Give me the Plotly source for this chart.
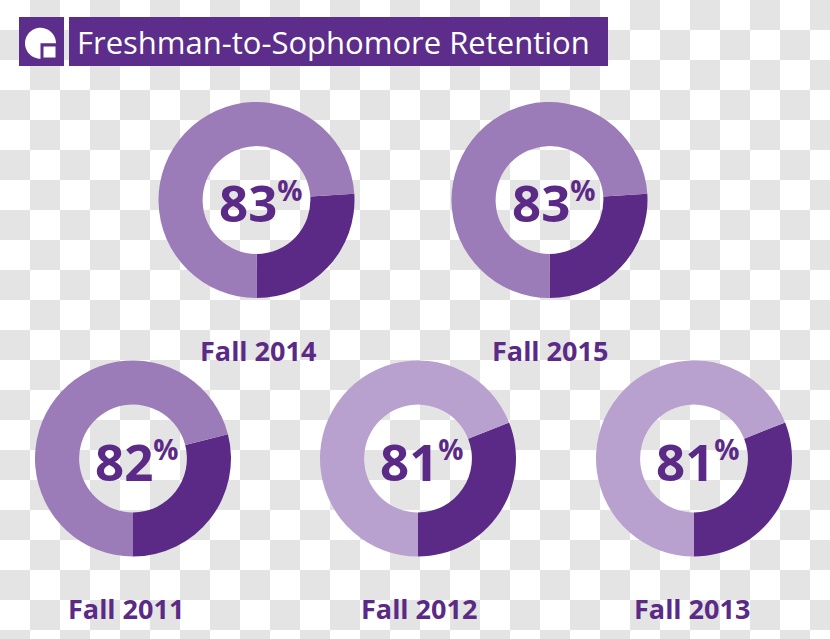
import math
import plotly.graph_objects as go

# ---- data ----
terms = ["Fall 2011", "Fall 2012", "Fall 2013", "Fall 2014", "Fall 2015"]
retention_pct = [82, 81, 81, 83, 83]
dark_share_pct = [29, 31, 31, 26, 26]   # share of ring drawn in dark purple
title_text = "Freshman-to-Sophomore Retention"

# ---- layout / style ----
W, H = 830, 639
centers = [(133, 458.5), (418, 458.5), (694, 458.5), (256.5, 200), (549.5, 200)]
label_pos = [(126, 608), (419, 608), (692, 608), (258, 350), (550, 350)]
light_colors = ["#9b7bb8", "#b8a1cf", "#b8a1cf", "#9b7bb8", "#9b7bb8"]
dark_color = "#5b2a86"
text_color = "#5b2a86"
R = 98
FONT = "Open Sans"


def px(x):
    return x / W


def py(y):
    return 1 - y / H


fig = go.Figure()

for i, term in enumerate(terms):
    cx, cy = centers[i]
    dark = dark_share_pct[i]
    fig.add_trace(go.Pie(
        values=[dark, 100 - dark],
        labels=["dark", "light"],
        sort=False,
        direction="clockwise",
        rotation=180 - dark * 3.6,
        hole=0.55,
        marker=dict(colors=[dark_color, light_colors[i]], line=dict(width=0)),
        textinfo="none",
        textposition="none",
        hoverinfo="skip",
        showlegend=False,
        domain=dict(x=[px(cx - R), px(cx + R)], y=[py(cy + R), py(cy - R)]),
    ))

annotations = []
for i, term in enumerate(terms):
    cx, cy = centers[i]
    annotations.append(dict(
        x=px(cx + 4), y=py(cy + 2), xref="paper", yref="paper",
        xanchor="center", yanchor="middle", showarrow=False,
        text="%d<sup><span style='font-size:28px'>%%</span></sup>" % retention_pct[i],
        font=dict(family=FONT, size=51, color=text_color, weight="bold"),
    ))
    lx, ly = label_pos[i]
    annotations.append(dict(
        x=px(lx), y=py(ly), xref="paper", yref="paper",
        xanchor="center", yanchor="middle", showarrow=False,
        text=term,
        font=dict(family=FONT, size=27, color=text_color, weight="bold"),
    ))

annotations.append(dict(
    x=px(75), y=py(42), xref="paper", yref="paper",
    xanchor="left", yanchor="middle", showarrow=False,
    text=title_text,
    font=dict(family=FONT, size=31, color="white"),
))

# checkerboard background (transparent-PNG look)
cell = 30
parts = []
for r in range(0, H // cell + 1):
    for c in range(0, W // cell + 1):
        if (r + c) % 2 == 1:
            x0, x1 = px(c * cell), px(min((c + 1) * cell, W))
            y0, y1 = py(r * cell), py(min((r + 1) * cell, H))
            parts.append("M%.5f,%.5f H%.5f V%.5f H%.5f Z" % (x0, y0, x1, y1, x0))
shapes = [dict(type="path", xref="paper", yref="paper", path=" ".join(parts),
               fillcolor="#e4e4e4", line=dict(width=0), layer="below")]

bar_color = "#5c2d8a"
# logo box and title bar
shapes.append(dict(type="rect", xref="paper", yref="paper",
                   x0=px(19), x1=px(64), y0=py(66), y1=py(17),
                   fillcolor=bar_color, line=dict(width=0)))
shapes.append(dict(type="rect", xref="paper", yref="paper",
                   x0=px(69), x1=px(608), y0=py(66), y1=py(17),
                   fillcolor=bar_color, line=dict(width=0)))
# logo glyph: three-quarter disc + small square piece
lcx, lcy, lr = 40.5, 43.3, 15.5
pts = []
steps = 40
for k in range(steps + 1):
    a = math.radians(90 + 270 * k / steps)
    pts.append((lcx + lr * math.cos(a), lcy + lr * math.sin(a)))
path = "M%.5f,%.5f " % (px(lcx), py(lcy))
path += " ".join("L%.5f,%.5f" % (px(x), py(y)) for x, y in pts) + " Z"
shapes.append(dict(type="path", xref="paper", yref="paper", path=path,
                   fillcolor="white", line=dict(width=0)))
shapes.append(dict(type="rect", xref="paper", yref="paper",
                   x0=px(43.5), x1=px(55.5), y0=py(57.5), y1=py(46.5),
                   fillcolor="white", line=dict(width=0)))

fig.update_layout(
    width=W, height=H,
    margin=dict(l=0, r=0, t=0, b=0),
    paper_bgcolor="white", plot_bgcolor="white",
    annotations=annotations, shapes=shapes,
    showlegend=False,
)

fig.write_html("out.html",
               config={"displayModeBar": False},
               post_script="document.body.style.margin='0';document.body.style.overflow='hidden';")
